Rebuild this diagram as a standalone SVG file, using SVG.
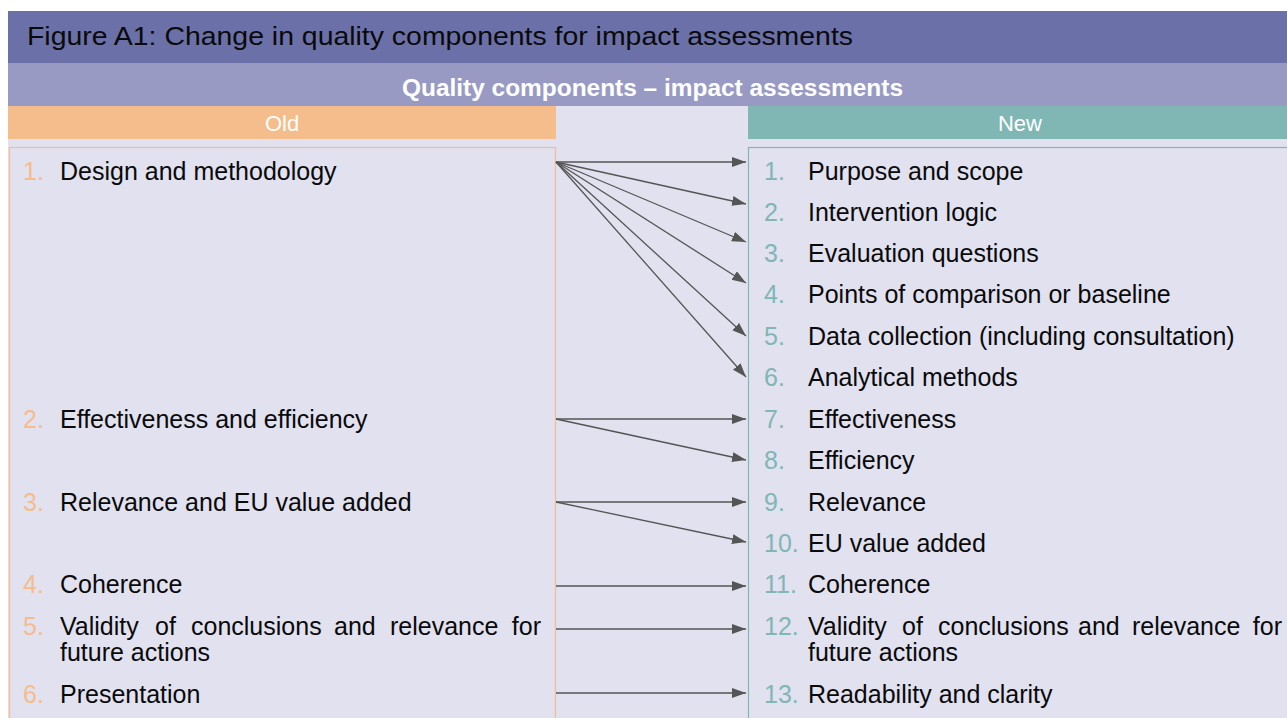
<svg xmlns="http://www.w3.org/2000/svg" width="1287" height="718" viewBox="0 0 1287 718">
<style>
.t{font-family:"Liberation Sans",Arial,sans-serif;font-size:25px;fill:#0a0a0a}
.nl{font-family:"Liberation Sans",Arial,sans-serif;font-size:25px;fill:#f5bd8b}
.nr{font-family:"Liberation Sans",Arial,sans-serif;font-size:25px;fill:#80b7b5}
.hd{font-family:"Liberation Sans",Arial,sans-serif;font-size:22px;fill:#fff;text-anchor:middle}
.c{stroke:#555;stroke-width:1.3;fill:none;marker-end:url(#ah)}
</style>
<defs>
<marker id="ah" markerUnits="userSpaceOnUse" markerWidth="16" markerHeight="12" refX="14" refY="5" orient="auto">
<path d="M0,0 L14,5 L0,10 z" fill="#555"/>
</marker>
</defs>
<rect width="1287" height="718" fill="#fff"/>
<g id="title">
<rect x="8" y="11" width="1279" height="52" fill="#6b71a8"/>
<text class="t" x="27" y="44.5" style="font-size:25.5px" textLength="826" lengthAdjust="spacingAndGlyphs">Figure A1: Change in quality components for impact assessments</text>
</g>
<g id="subheader">
<rect x="8" y="63" width="1279" height="43" fill="#989ac4"/>
<text class="hd" x="652.5" y="96" style="font-weight:bold;font-size:23px" textLength="501" lengthAdjust="spacingAndGlyphs">Quality components – impact assessments</text>
</g>
<rect x="8" y="106" width="1279" height="612" fill="#e1e1ef"/>
<g id="old-header">
<rect x="8" y="106" width="548" height="33" fill="#f5bd8b"/>
<text class="hd" x="282" y="131">Old</text>
</g>
<g id="new-header">
<rect x="748" y="106" width="539" height="33" fill="#80b7b5"/>
<text class="hd" x="1020" y="131">New</text>
</g>
<g id="old-box">
<rect x="9.5" y="147.5" width="546" height="580" fill="none" stroke="#f5bd8b" stroke-width="1.2"/>
<text class="nl" x="23" y="179.5">1.</text><text class="t" x="60" y="179.5">Design and methodology</text>
<text class="nl" x="23" y="428">2.</text><text class="t" x="60" y="428">Effectiveness and efficiency</text>
<text class="nl" x="23" y="511">3.</text><text class="t" x="60" y="511">Relevance and EU value added</text>
<text class="nl" x="23" y="593">4.</text><text class="t" x="60" y="593">Coherence</text>
<text class="nl" x="23" y="635">5.</text>
<text class="t" y="635"><tspan x="60">Validity</tspan><tspan x="155">of</tspan><tspan x="191">conclusions</tspan><tspan x="334">and</tspan><tspan x="390">relevance</tspan></text>
<text class="t" x="541" y="635" text-anchor="end">for</text>
<text class="t" x="60" y="661">future actions</text>
<text class="nl" x="23" y="703">6.</text><text class="t" x="60" y="703">Presentation</text>
</g>
<g id="new-box">
<rect x="748.5" y="147.5" width="560" height="580" fill="none" stroke="#80b7b5" stroke-width="1.2"/>
<text class="nr" x="764" y="180">1.</text><text class="t" x="808" y="180">Purpose and scope</text>
<text class="nr" x="764" y="221">2.</text><text class="t" x="808" y="221">Intervention logic</text>
<text class="nr" x="764" y="262">3.</text><text class="t" x="808" y="262">Evaluation questions</text>
<text class="nr" x="764" y="303">4.</text><text class="t" x="808" y="303">Points of comparison or baseline</text>
<text class="nr" x="764" y="344.5">5.</text><text class="t" x="808" y="344.5">Data collection (including consultation)</text>
<text class="nr" x="764" y="386">6.</text><text class="t" x="808" y="386">Analytical methods</text>
<text class="nr" x="764" y="428">7.</text><text class="t" x="808" y="428">Effectiveness</text>
<text class="nr" x="764" y="469">8.</text><text class="t" x="808" y="469">Efficiency</text>
<text class="nr" x="764" y="511">9.</text><text class="t" x="808" y="511">Relevance</text>
<text class="nr" x="764" y="552">10.</text><text class="t" x="808" y="552">EU value added</text>
<text class="nr" x="764" y="593">11.</text><text class="t" x="808" y="593">Coherence</text>
<text class="nr" x="764" y="635">12.</text>
<text class="t" y="635"><tspan x="808">Validity</tspan><tspan x="902">of</tspan><tspan x="938">conclusions</tspan><tspan x="1078">and</tspan><tspan x="1132">relevance</tspan></text>
<text class="t" x="1282" y="635" text-anchor="end">for</text>
<text class="t" x="808" y="661">future actions</text>
<text class="nr" x="764" y="703">13.</text><text class="t" x="808" y="703">Readability and clarity</text>
</g>
<g id="connectors">
<line class="c" x1="556" y1="162" x2="746" y2="162"/>
<line class="c" x1="556" y1="162" x2="746" y2="204"/>
<line class="c" x1="556" y1="162" x2="746" y2="242"/>
<line class="c" x1="556" y1="162" x2="746" y2="283"/>
<line class="c" x1="556" y1="162" x2="746" y2="336"/>
<line class="c" x1="556" y1="162" x2="746" y2="377"/>
<line class="c" x1="556" y1="419" x2="746" y2="419"/>
<line class="c" x1="556" y1="419" x2="746" y2="460"/>
<line class="c" x1="556" y1="502" x2="746" y2="502"/>
<line class="c" x1="556" y1="502" x2="746" y2="542"/>
<line class="c" x1="556" y1="586" x2="746" y2="586"/>
<line class="c" x1="556" y1="629" x2="746" y2="629"/>
<line class="c" x1="556" y1="693" x2="746" y2="693"/>
</g>
</svg>
